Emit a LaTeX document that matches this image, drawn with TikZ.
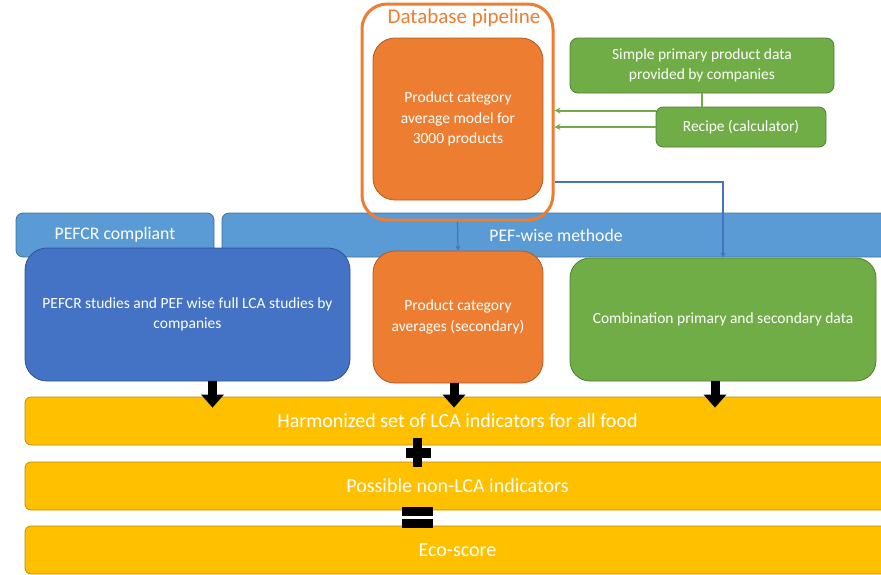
\documentclass[tikz,border=0pt]{standalone}
\usepackage{fontspec}
\setmainfont{Carlito}
\usetikzlibrary{arrows.meta,calc}
\definecolor{cOrange}{HTML}{ED7D31}
\definecolor{cOrangeD}{HTML}{AE5A21}
\definecolor{cGreen}{HTML}{70AD47}
\definecolor{cGreenD}{HTML}{507E32}
\definecolor{cBlueL}{HTML}{5B9BD5}
\definecolor{cBlueLD}{HTML}{41719C}
\definecolor{cBlue}{HTML}{4472C4}
\definecolor{cBlueD}{HTML}{2F528F}
\definecolor{cYellow}{HTML}{FFC000}
\definecolor{cYellowD}{HTML}{BC8C00}
\tikzset{
  base/.style={rectangle, inner sep=2pt, align=center, text=white, line width=0.8pt,
     font=\fontsize{15.5}{20.5}\selectfont},
  orangebox/.style={base, fill=cOrange, draw=cOrangeD, rounded corners=22pt},
  greenbox/.style={base, fill=cGreen, draw=cGreenD},
  bluebar/.style={base, fill=cBlueL, draw=cBlueLD, rounded corners=7pt, font=\fontsize{17.7}{20}\selectfont},
  bluebox/.style={base, fill=cBlue, draw=cBlueD, rounded corners=22pt},
  yellowbar/.style={base, fill=cYellow, draw=cYellowD, rounded corners=6pt, font=\fontsize{20}{22}\selectfont,
     minimum width=865pt, minimum height=48pt},
  greenarrow/.style={draw=cGreen, line width=1.8pt, -{Stealth[length=6pt,width=6pt]}},
  bluearrow/.style={draw=cBlue, line width=1.2pt, -{Stealth[length=5pt,width=5pt]}},
  blackarrow/.style={draw=black, line width=9pt, -{Triangle[length=13pt,width=22pt]}},
}
\begin{document}
\begin{tikzpicture}[x=1pt,y=-1pt]
\useasboundingbox (0,0) rectangle (881,574);
\clip (0,0) rectangle (881,574);
% blue bars
\node[bluebar, minimum width=198pt, minimum height=44pt] (pefcr) at (115,235) {PEFCR compliant};
\node[bluebar, minimum width=668pt, minimum height=44pt] (pefwise) at (556,235) {PEF-wise methode};
% database pipeline
\node[orangebox, minimum width=170pt, minimum height=162pt] (model) at (458,119)
  {Product category\\average model for\\3000 products};
\node[draw=cOrange, line width=3pt, rounded corners=25pt, minimum width=191pt, minimum height=216pt,
  inner sep=0pt] (pipe) at (457.5,112) {};
\node[text=cOrange, font=\fontsize{21}{22}\selectfont, inner sep=0pt] (pipetitle) at (464,18) {Database pipeline};
% green sources
\node[greenbox, rounded corners=8pt, minimum width=264pt, minimum height=55pt] (simple) at (702,65.5)
  {Simple primary product data\\provided by companies};
\node[greenbox, rounded corners=7pt, minimum width=170pt, minimum height=40pt] (recipe) at (741,127)
  {Recipe (calculator)};
\draw[draw=cGreen, line width=1.8pt] (simple.south) -- (simple.south |- recipe.north);
\coordinate (rup) at ($(recipe.north west)+(0,4)$);
\draw[greenarrow] (rup) -- (pipe.east |- rup);
\draw[greenarrow] (recipe.west) -- (pipe.east |- recipe.west);
% middle boxes
\node[bluebox, minimum width=325pt, minimum height=133pt] (studies) at (187.5,314.5)
  {PEFCR studies and PEF wise full LCA studies by\\companies};
\node[orangebox, minimum width=170pt, minimum height=132pt] (secondary) at (458,317)
  {Product category\\averages (secondary)};
\node[greenbox, rounded corners=20pt, minimum width=306pt, minimum height=123pt] (comb) at (723,319.5)
  {Combination primary and secondary data};
% blue connectors
\draw[bluearrow] (pipe.south) -- (secondary.north);
\coordinate (bstart) at ($(pipe.east)+(0,70)$);
\draw[bluearrow] (bstart) -| (comb.north);
% yellow bars
\node[yellowbar] (harm) at (457.5,421) {Harmonized set of LCA indicators for all food};
\node[yellowbar] (poss) at (457.5,486) {Possible non-LCA indicators};
\node[yellowbar] (eco) at (457.5,550) {Eco-score};
% black arrows
\coordinate (a1) at ($(studies.south)+(25,0)$);
\coordinate (a2) at ($(secondary.south)+(-4,0)$);
\coordinate (a3) at ($(comb.south)+(-8,0)$);
\draw[blackarrow] (a1) -- ($(a1 |- harm.north)+(0,11)$);
\draw[blackarrow] (a2) -- ($(a2 |- harm.north)+(0,11)$);
\draw[blackarrow] (a3) -- ($(a3 |- harm.north)+(0,11)$);
% plus sign
\fill[black] (413,438) rectangle (422,467);
\fill[black] (406,448) rectangle (431,458);
% equals sign
\fill[black] (402,507) rectangle (433,516);
\fill[black] (402,519) rectangle (433,528);
\end{tikzpicture}
\end{document}
